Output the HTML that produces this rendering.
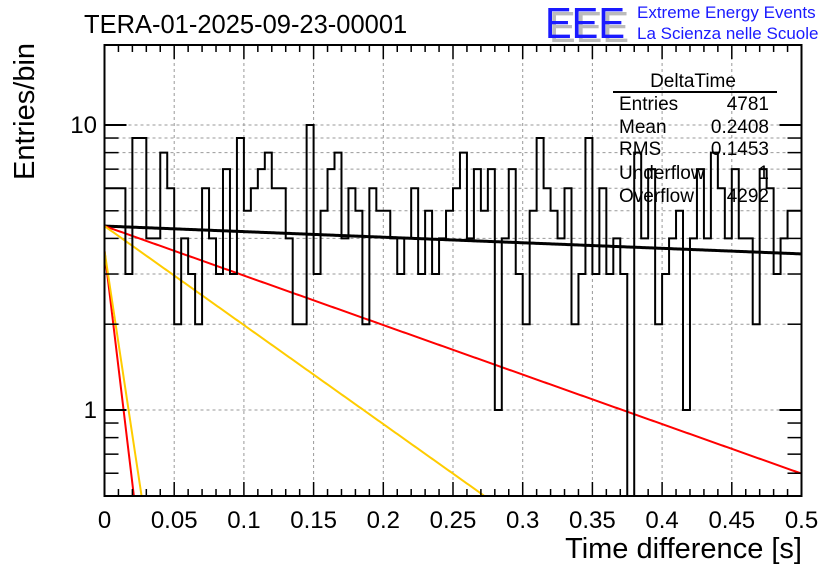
<!DOCTYPE html>
<html><head><meta charset="utf-8"><style>
body{margin:0;background:#fff;}
svg{display:block;font-family:"Liberation Sans",sans-serif;}
</style></head><body>
<svg id="chart" width="836" height="572" viewBox="0 0 836 572">
<rect width="836" height="572" fill="#fff"/>
<text x="84" y="33" font-size="25.5">TERA-01-2025-09-23-00001</text>
<g>
<text x="549" y="42" font-size="44" fill="#bbb" textLength="80" lengthAdjust="spacingAndGlyphs">EEE</text>
<text x="545" y="38" font-size="44" fill="#1a1aff" textLength="80" lengthAdjust="spacingAndGlyphs">EEE</text>
<text x="637" y="18" font-size="17" fill="#1a1aff">Extreme Energy Events</text>
<text x="637" y="39" font-size="17" fill="#1a1aff">La Scienza nelle Scuole</text>
</g>
<g id="grid"></g>
<g id="fits"></g>
<g id="hist"></g>
<g id="axes"></g>
<text transform="translate(34,180) rotate(-90)" font-size="29">Entries/bin</text>
<text x="802" y="558" font-size="29" text-anchor="end">Time difference [s]</text>
<g font-size="19">
<text x="693" y="87" text-anchor="middle">DeltaTime</text>
<line x1="613" y1="92" x2="777" y2="92" stroke="#000" stroke-width="2"/>
<text x="619" y="110">Entries</text><text x="769" y="110" text-anchor="end">4781</text>
<text x="619" y="133">Mean</text><text x="769" y="133" text-anchor="end">0.2408</text>
<text x="619" y="155">RMS</text><text x="769" y="155" text-anchor="end">0.1453</text>
<text x="619" y="179">Underflow</text><text x="769" y="179" text-anchor="end">1</text>
<text x="619" y="202">Overflow</text><text x="769" y="202" text-anchor="end">4292</text>
</g>
</svg>
<script>
const counts=[6,6,6,3,9,9,4,4,8,6,2,4,3,2,6,4,3,7,3,9,5,6,7,8,6,6,4,2,2,10,3,5,7,8,4,6,5,2,6,5,5,4,3,4,6,3,5,3,4,5,6,8,4,7,5,7,1,4,7,3,2,5,9,6,5,4,6,2,3,9,3,6,3,4,3,0,8,4,7,2,3,4,5,1,4,7,4,8,6,4,7,4,4,2,7,6,3,4,5,5];
const binWidth=0.005;
const xTicks=[0,0.05,0.1,0.15,0.2,0.25,0.3,0.35,0.4,0.45,0.5];
const xTickLabels=["0","0.05","0.1","0.15","0.2","0.25","0.3","0.35","0.4","0.45","0.5"];
const yTicks=[1,10];
const yTickLabels=["1","10"];
const fitNames=["fit-total","fit-red-slow","fit-yellow-slow","fit-red-fast","fit-yellow-fast"];
const fitAmp=[4.42,4.42,4.42,3.62,3.62];
const fitRate=[0.45,4.0,8.0,94,74.5];
const fitColor=["#000","#f00","#fc0","#f00","#fc0"];
const X0=104.5,X1=801.5,YT=45,YB=496;
const xs=v=>X0+(X1-X0)*v/0.5;
const ys=v=>410-285*Math.log10(v);
const NS="http://www.w3.org/2000/svg";
function mk(tag,attrs,parent){const e=document.createElementNS(NS,tag);for(const k in attrs)e.setAttribute(k,attrs[k]);parent.appendChild(e);return e;}
const grid=document.getElementById('grid'),axes=document.getElementById('axes'),hist=document.getElementById('hist'),fits=document.getElementById('fits');
xTicks.forEach((t,i)=>{if(i>0&&i<xTicks.length-1){const l=mk('line',{x1:xs(t),x2:xs(t),y1:YT,y2:YB,stroke:'#999','stroke-dasharray':'3,3'},grid);

}});
for(let d=1;d<=10;d++){const y=ys(d);const l=mk('line',{x1:X0,x2:X1,y1:y,y2:y,stroke:'#999','stroke-dasharray':'3,3'},grid);

}
fitNames.forEach((n,i)=>{let pts=[];for(let k=0;k<=400;k++){const x=0.5*k/400;const v=fitAmp[i]*Math.exp(-fitRate[i]*x);if(v<0.5){const xe=Math.log(fitAmp[i]/0.5)/fitRate[i];pts.push(xs(xe)+','+YB);break;}pts.push(xs(x)+','+ys(v));}
const p=mk('polyline',{points:pts.join(' '),fill:'none',stroke:fitColor[i],'stroke-width':i==0?3:2},fits);

});
const yc=v=>v<=0?YB:Math.min(YB,ys(v));
let d='M'+xs(0)+','+yc(counts[0]);
counts.forEach((c,i)=>{const x0=xs(i*binWidth),x1=xs((i+1)*binWidth);d+=' L'+x0+','+yc(c)+' L'+x1+','+yc(c);});
const h=mk('path',{d:d,fill:'none',stroke:'#000','stroke-width':2},hist);


const f=mk('rect',{x:X0,y:YT,width:X1-X0,height:YB-YT,fill:'none',stroke:'#000','stroke-width':2},axes);


for(let k=0;k<=50;k++){const x=xs(k*0.01);const len=(k%5==0)?14:7;
mk('line',{x1:x,x2:x,y1:YB,y2:YB-len,stroke:'#000','stroke-width':1.5},axes);
mk('line',{x1:x,x2:x,y1:YT,y2:YT+len,stroke:'#000','stroke-width':1.5},axes);}
xTicks.forEach((t,i)=>{const tx=mk('text',{x:xs(t),y:528,'font-size':24,'text-anchor':'middle'},axes);tx.textContent=xTickLabels[i];

});
const yMinor=[0.5,0.6,0.7,0.8,0.9,2,3,4,5,6,7,8,9,20];
yMinor.forEach(v=>{const y=ys(v);if(y<YT||y>YB)return;mk('line',{x1:X0,x2:X0+14,y1:y,y2:y,stroke:'#000','stroke-width':1.5},axes);mk('line',{x1:X1,x2:X1-14,y1:y,y2:y,stroke:'#000','stroke-width':1.5},axes);});
yTicks.forEach((t,i)=>{const y=ys(t);mk('line',{x1:X0,x2:X0+22,y1:y,y2:y,stroke:'#000','stroke-width':2},axes);mk('line',{x1:X1,x2:X1-22,y1:y,y2:y,stroke:'#000','stroke-width':2},axes);
const tx=mk('text',{x:97,y:y+8,'font-size':24,'text-anchor':'end'},axes);tx.textContent=yTickLabels[i];

});
</script>
</body></html>
